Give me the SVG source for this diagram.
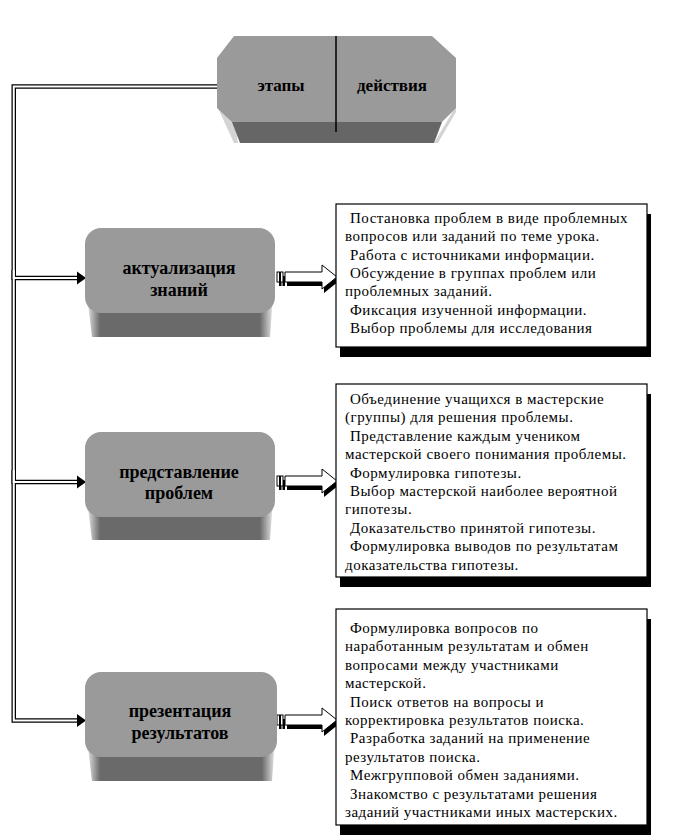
<svg xmlns="http://www.w3.org/2000/svg" width="673" height="840" viewBox="0 0 673 840">
<style>
.nt{font-family:"Liberation Serif","Times New Roman",serif;font-weight:bold;font-size:18px;fill:#000;text-anchor:middle}
.tt{font-family:"Liberation Serif","Times New Roman",serif;font-weight:bold;font-size:17px;fill:#000;text-anchor:middle}
.bx{font-family:"Liberation Serif","Times New Roman",serif;font-size:15px;fill:#000;letter-spacing:0.5px}
.box{fill:#fff;stroke:#000;stroke-width:1.2}
.shd{fill:#000}
.face{fill:#9a9a9a}
.dark{fill:url(#bottomGrad)}
.cb{fill:none;stroke:#000;stroke-width:4.5}
.cw{fill:none;stroke:#fff;stroke-width:2}
</style>
<defs>
<linearGradient id="bottomGrad" x1="0" y1="0" x2="1" y2="0">
<stop offset="0" stop-color="#e6e6e6"/>
<stop offset="0.07" stop-color="#6a6a6a"/>
<stop offset="0.93" stop-color="#6a6a6a"/>
<stop offset="1" stop-color="#e6e6e6"/>
</linearGradient>
<g id="blockArrow">
<g fill="#000" transform="translate(2,4)">
<rect x="0" y="-5" width="2.5" height="10"/>
<rect x="3.5" y="-5" width="2.5" height="10"/>
<path d="M8,-5 H45 V-12 L60,0 L45,12 V5 H8 Z"/>
</g>
<g fill="#fff" stroke="#000" stroke-width="1">
<rect x="0" y="-5" width="2.5" height="10"/>
<rect x="3.5" y="-5" width="2.5" height="10"/>
<path d="M8,-5 H45 V-12 L60,0 L45,12 V5 H8 Z"/>
</g>
</g>
<path id="inArrow" d="M-9,-6.5 L0,0 L-9,6.5 Z" fill="#000"/>
</defs>

<g id="connectors">
<path class="cb" d="M217,86.5 H13.75 V278 H80"/>
<path class="cb" d="M13.75,270 V482 H80"/>
<path class="cb" d="M13.75,470 V720.5 H80"/>
<path class="cw" d="M217,86.5 H13.75 V278 H80"/>
<path class="cw" d="M13.75,270 V482 H80"/>
<path class="cw" d="M13.75,470 V720.5 H80"/>
<use href="#inArrow" x="86" y="278"/>
<use href="#inArrow" x="86" y="482"/>
<use href="#inArrow" x="86" y="720.5"/>
<use href="#blockArrow" x="277" y="277"/>
<use href="#blockArrow" x="277" y="481"/>
<use href="#blockArrow" x="277" y="720"/>
</g>

<g id="node-header">
<polygon points="217,106 234,143 238,143 232,106" fill="#d4d4d4"/>
<polygon points="456,106 434,143 438,143 456,112" fill="#d4d4d4"/>
<polygon points="217,58 234,36 432,36 456,58 456,108 442,122 232,122 217,108" class="face"/>
<polygon points="232,122 442,122 434,143 240,143" fill="#666"/>
<line x1="336" y1="36" x2="336" y2="132" stroke="#000" stroke-width="1.5"/>
<text class="tt" x="281" y="91">этапы</text>
<text class="tt" x="392" y="91">действия</text>
</g>

<g id="node-actualization">
<path class="dark" d="M87,295 H273 L270,337 H92 Z"/>
<rect class="face" x="85" y="228" width="190" height="85" rx="16"/>
<text class="nt" x="179" y="274">актуализация</text>
<text class="nt" x="179" y="296">знаний</text>
</g>

<g id="node-problems">
<path class="dark" d="M87,499 H273 L270,540 H92 Z"/>
<rect class="face" x="85" y="432" width="190" height="85" rx="16"/>
<text class="nt" x="179" y="478">представление</text>
<text class="nt" x="179" y="499">проблем</text>
</g>

<g id="node-presentation">
<path class="dark" d="M87,739 H275 L272,781 H92 Z"/>
<rect class="face" x="85" y="672" width="192" height="85" rx="16"/>
<text class="nt" x="180" y="717">презентация</text>
<text class="nt" x="180" y="739">результатов</text>
</g>

<g id="box-actualization">
<rect class="shd" x="340" y="214" width="311" height="143"/>
<rect class="box" x="336" y="204" width="311" height="143"/>
<text class="bx">
<tspan x="350" y="223">Постановка проблем в виде проблемных</tspan>
<tspan x="345" y="241.3">вопросов или заданий по теме урока.</tspan>
<tspan x="350" y="259.6">Работа  с источниками информации.</tspan>
<tspan x="350" y="277.9">Обсуждение в группах проблем или</tspan>
<tspan x="345" y="296.2">проблемных заданий.</tspan>
<tspan x="350" y="314.5">Фиксация изученной информации.</tspan>
<tspan x="350" y="332.8">Выбор проблемы для исследования</tspan>
</text>
</g>

<g id="box-problems">
<rect class="shd" x="340" y="394" width="311" height="193"/>
<rect class="box" x="336" y="384" width="311" height="193"/>
<text class="bx">
<tspan x="350" y="404">Объединение учащихся в мастерские</tspan>
<tspan x="345" y="422.4">(группы) для решения проблемы.</tspan>
<tspan x="350" y="440.8">Представление каждым учеником</tspan>
<tspan x="345" y="459.2">мастерской своего понимания проблемы.</tspan>
<tspan x="350" y="477.6">Формулировка гипотезы.</tspan>
<tspan x="350" y="496">Выбор мастерской наиболее вероятной</tspan>
<tspan x="345" y="514.4">гипотезы.</tspan>
<tspan x="350" y="532.8">Доказательство принятой гипотезы.</tspan>
<tspan x="350" y="551.2">Формулировка выводов по результатам</tspan>
<tspan x="345" y="569.6">доказательства гипотезы.</tspan>
</text>
</g>

<g id="box-presentation">
<rect class="shd" x="340" y="619" width="311" height="216"/>
<rect class="box" x="336" y="609" width="311" height="216"/>
<text class="bx">
<tspan x="350" y="633">Формулировка вопросов по</tspan>
<tspan x="345" y="651.4">наработанным результатам и обмен</tspan>
<tspan x="345" y="669.8">вопросами между участниками</tspan>
<tspan x="345" y="688.2">мастерской.</tspan>
<tspan x="350" y="706.6">Поиск ответов на вопросы и</tspan>
<tspan x="345" y="725">корректировка результатов поиска.</tspan>
<tspan x="350" y="743.4">Разработка заданий на применение</tspan>
<tspan x="345" y="761.8">результатов поиска.</tspan>
<tspan x="350" y="780.2">Межгрупповой обмен заданиями.</tspan>
<tspan x="350" y="798.6">Знакомство с результатами решения</tspan>
<tspan x="345" y="817">заданий участниками иных мастерских.</tspan>
</text>
</g>
</svg>
